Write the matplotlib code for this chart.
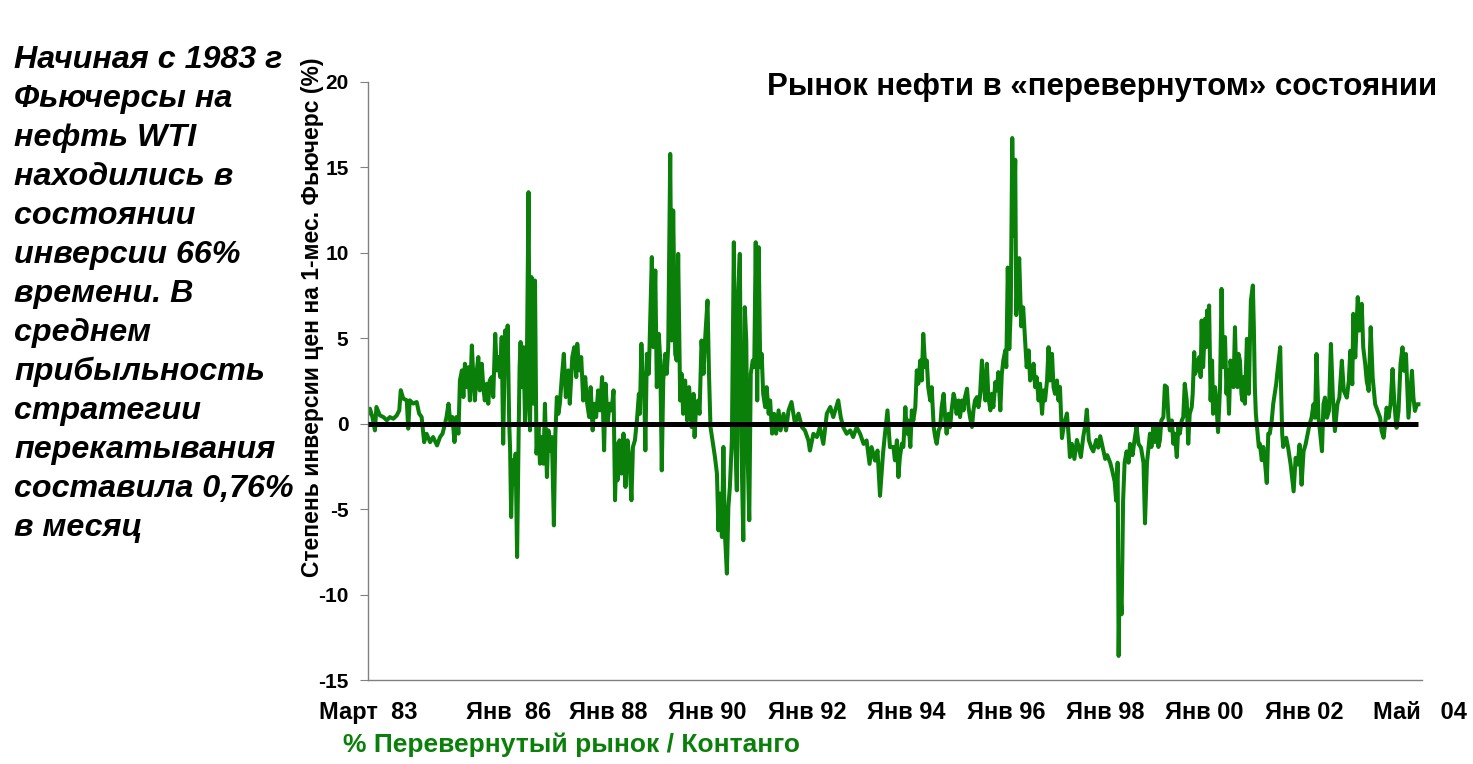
import matplotlib
matplotlib.use("Agg")
import matplotlib.pyplot as plt
import numpy as np

plt.rcParams['font.family'] = ['Liberation Sans', 'DejaVu Sans']
plt.rcParams['axes.unicode_minus'] = False

# spread between front month and next future, %, time in decimal years
years_83_84 = [1983.17, 1983.21, 1983.26, 1983.31, 1983.34, 1983.41, 1983.48, 1983.55, 1983.61, 1983.68,
               1983.75, 1983.80, 1983.83, 1983.88, 1983.95, 1983.98, 1984.01, 1984.08, 1984.15, 1984.20,
               1984.25, 1984.30, 1984.35, 1984.42, 1984.48, 1984.56]
spread_83_84 = [0.59, 0.88, 0.39, -0.39, 0.98, 0.49, 0.39, 0.2, 0.39, 0.29,
                0.49, 0.78, 1.96, 1.47, 1.37, -0.29, 1.37, 1.18, 1.27, 0.59,
                0.39, -1.08, -0.59, -1.08, -0.78, -1.27]

years_84_88 = [1984.62, 1984.67, 1984.72, 1984.75, 1984.79, 1984.83, 1984.87, 1984.91, 1984.95, 1984.99,
               1985.02, 1985.06, 1985.09, 1985.12, 1985.16, 1985.19, 1985.22, 1985.26, 1985.29, 1985.32,
               1985.36, 1985.39, 1985.42, 1985.46, 1985.49, 1985.52, 1985.56, 1985.59, 1985.62, 1985.66,
               1985.69, 1985.73, 1985.76, 1985.79, 1985.83, 1985.86, 1985.89, 1985.93, 1985.96, 1985.98,
               1986.01, 1986.03, 1986.05, 1986.08, 1986.11, 1986.14, 1986.17, 1986.20, 1986.22, 1986.24,
               1986.27, 1986.30, 1986.33, 1986.36, 1986.40, 1986.43, 1986.46, 1986.50, 1986.53, 1986.56,
               1986.60, 1986.63, 1986.66, 1986.70, 1986.73, 1986.77, 1986.80, 1986.83, 1986.87, 1986.91,
               1986.94, 1986.97, 1987.00, 1987.03, 1987.07, 1987.11, 1987.15, 1987.20, 1987.23, 1987.28,
               1987.32, 1987.36, 1987.38, 1987.42, 1987.46, 1987.50, 1987.54, 1987.58, 1987.62, 1987.65,
               1987.69, 1987.72, 1987.76, 1987.80, 1987.84, 1987.88, 1987.92, 1987.95, 1987.99, 1988.03,
               1988.07, 1988.11, 1988.14, 1988.17]
spread_84_88 = [-0.78, -0.58, 0.0, 0.39, 1.17, 0.0, 0.39, -1.07, 0.39, -0.58,
                2.53, 3.12, 1.56, 3.51, 2.14, 3.31, 1.36, 4.58, 2.73, 1.36,
                3.12, 3.9, 1.95, 3.51, 2.14, 1.36, 2.34, 1.17, 2.53, 2.73,
                1.56, 5.26, 3.12, 3.9, 2.73, 5.07, -1.17, 5.46, 3.9, 5.75,
                0.19, -1.56, -5.46, -2.14, -3.51, -1.75, -7.8, -0.78, 3.31, 4.78,
                2.14, 4.48, 0.0, 1.56, 13.55, -0.39, 8.58, 1.17, 8.38, -1.75,
                -0.19, -2.34, -0.78, -2.34, 1.17, -3.12, -0.39, -1.56, -0.78, -5.95,
                -0.58, 1.56, 0.58, 1.17, 2.73, 4.09, 1.56, 3.12, 1.17, 3.9,
                4.48, 2.73, 4.68, 3.12, 3.9, 1.36, 2.73, 1.17, 0.39, 2.14,
                -0.39, 1.17, 0.39, 1.95, 0.78, 2.73, -1.56, 2.34, 0.0, 1.17,
                0.78, 1.95, -4.48, -1.17]

years_88_91 = [1988.19, 1988.23, 1988.27, 1988.31, 1988.35, 1988.39, 1988.43, 1988.47, 1988.50, 1988.54,
               1988.58, 1988.62, 1988.64, 1988.67, 1988.70, 1988.72, 1988.75, 1988.78, 1988.82, 1988.84,
               1988.88, 1988.91, 1988.95, 1988.98, 1989.02, 1989.05, 1989.08, 1989.11, 1989.15, 1989.18,
               1989.21, 1989.25, 1989.28, 1989.31, 1989.35, 1989.38, 1989.41, 1989.45, 1989.48, 1989.51,
               1989.55, 1989.59, 1989.63, 1989.68, 1989.72, 1989.74, 1989.77, 1989.81, 1989.84, 1989.88,
               1989.92, 1989.95, 1990.00, 1990.03, 1990.06, 1990.10, 1990.15, 1990.19, 1990.22, 1990.25,
               1990.29, 1990.32, 1990.35, 1990.39, 1990.42, 1990.45, 1990.49, 1990.53, 1990.56, 1990.59,
               1990.61, 1990.65, 1990.68, 1990.72, 1990.75, 1990.78, 1990.80, 1990.84, 1990.87, 1990.91,
               1990.94, 1990.97, 1991.00, 1991.03, 1991.06, 1991.09, 1991.12, 1991.16, 1991.19, 1991.23,
               1991.26, 1991.30, 1991.34, 1991.38, 1991.43, 1991.47, 1991.53, 1991.58, 1991.63]
spread_88_91 = [-3.31, -0.97, -2.92, -0.58, -3.7, -0.97, -2.14, -4.48, -1.36, -0.97,
                0.19, 1.75, 0.58, 4.68, 2.34, 2.92, -1.56, 4.09, 2.92, 5.26,
                9.75, 4.48, 8.97, 2.14, 5.26, 3.7, -2.73, 2.53, 4.09, 2.92,
                4.48, 15.79, 4.87, 12.48, 4.09, 3.7, 9.94, 1.36, 2.92, 0.58,
                2.53, 0.19, 2.14, -0.19, 1.75, -0.78, 0.97, 1.36, 0.58, 4.87,
                2.92, 4.87, 7.21, 2.92, -0.19, -0.97, -1.95, -2.92, -6.24, -4.09,
                -6.63, -1.36, -6.43, -8.77, -4.87, -3.7, -0.97, 10.62, -0.97, -3.9,
                7.21, 9.94, -0.97, -6.82, 6.82, 4.87, -0.97, -5.65, 2.92, 3.7,
                3.31, 10.62, 1.36, 10.33, 3.31, 4.09, 1.75, 0.97, 2.14, 0.58,
                1.36, -0.58, 0.58, -0.58, 0.78, -0.39, 0.58, -0.39, 0.78]

years_91_93 = [1991.69, 1991.76, 1991.83, 1991.90, 1991.96, 1992.03, 1992.06, 1992.13, 1992.20, 1992.26,
               1992.33, 1992.40, 1992.47, 1992.53, 1992.59, 1992.63, 1992.68, 1992.73, 1992.80, 1992.87,
               1992.93, 1993.00, 1993.07, 1993.14, 1993.20, 1993.26, 1993.30, 1993.37, 1993.42, 1993.47,
               1993.53, 1993.57, 1993.62, 1993.67]
spread_91_93 = [1.27, 0.0, 0.59, -0.2, -0.39, -0.98, -1.57, -0.59, -0.78, -0.2,
                -1.18, 0.59, 0.98, 0.39, 0.98, 1.37, 0.39, -0.2, -0.59, -0.39,
                -0.78, -0.2, -0.59, -1.18, -0.98, -2.35, -1.37, -2.16, -1.57, -4.22,
                -1.76, -0.59, 0.78, -1.37]

years_93_96 = [1993.74, 1993.77, 1993.81, 1993.84, 1993.87, 1993.91, 1993.94, 1993.98, 1994.01, 1994.04,
               1994.08, 1994.11, 1994.14, 1994.18, 1994.21, 1994.24, 1994.28, 1994.31, 1994.34, 1994.38,
               1994.41, 1994.44, 1994.48, 1994.51, 1994.55, 1994.58, 1994.61, 1994.65, 1994.68, 1994.71,
               1994.75, 1994.78, 1994.81, 1994.85, 1994.88, 1994.91, 1994.95, 1994.98, 1995.01, 1995.05,
               1995.08, 1995.12, 1995.15, 1995.18, 1995.22, 1995.25, 1995.28, 1995.32, 1995.35, 1995.38,
               1995.42, 1995.45, 1995.48, 1995.52, 1995.55, 1995.59, 1995.62, 1995.65, 1995.69, 1995.72,
               1995.75, 1995.79, 1995.82, 1995.85, 1995.89, 1995.92, 1995.95, 1995.99, 1996.01, 1996.04,
               1996.07, 1996.10, 1996.13, 1996.16, 1996.19, 1996.21, 1996.24, 1996.27, 1996.31, 1996.35,
               1996.39]
spread_93_96 = [-1.36, -2.14, -0.97, -3.12, -1.95, -1.17, -1.36, 0.97, -0.58, 0.19,
                -1.36, 0.78, 0.19, 0.97, 3.12, 2.34, 3.7, 2.53, 5.26, 3.31,
                3.7, 2.14, 1.36, 2.14, -0.19, -0.78, -1.17, -0.39, -0.19, 0.97,
                1.75, 0.39, -0.58, 0.58, -0.19, 0.78, 1.75, 1.36, 0.58, 1.36,
                0.39, 1.36, 0.78, 1.56, 2.05, 0.97, 0.39, -0.19, 0.78, 1.36,
                1.56, 0.97, 1.56, 3.7, 2.34, 1.36, 3.51, 1.56, 0.78, 1.75,
                0.97, 2.44, 1.95, 3.02, 0.78, 2.92, 3.7, 4.29, 3.31, 9.14,
                4.37, 6.59, 16.72, 11.02, 15.45, 6.36, 8.36, 9.69, 5.7, 6.81,
                4.81]

years_96_98 = [1996.42, 1996.46, 1996.49, 1996.52, 1996.56, 1996.59, 1996.62, 1996.66, 1996.69, 1996.73,
               1996.76, 1996.79, 1996.83, 1996.86, 1996.89, 1996.93, 1996.96, 1996.99, 1997.03, 1997.06,
               1997.09, 1997.13, 1997.17, 1997.23, 1997.27, 1997.29, 1997.33, 1997.38, 1997.43, 1997.47,
               1997.51, 1997.56, 1997.60, 1997.63, 1997.67, 1997.72, 1997.76, 1997.82, 1997.86, 1997.90,
               1997.95, 1998.00, 1998.04, 1998.10, 1998.14, 1998.19, 1998.22, 1998.25, 1998.27, 1998.29,
               1998.33, 1998.36, 1998.39, 1998.43, 1998.47, 1998.50, 1998.55, 1998.59, 1998.63, 1998.67,
               1998.72, 1998.77, 1998.80, 1998.84]
spread_96_98 = [3.31, 4.29, 2.53, 2.92, 3.51, 2.14, 2.73, 1.36, 2.34, 0.58,
                1.95, 1.36, 2.53, 4.48, 2.53, 4.09, 2.14, 1.75, 2.53, 1.36,
                2.15, -0.84, -0.07, 0.6, -0.95, -1.95, -1.18, -2.06, -0.95, -1.4,
                -1.95, -0.73, -0.07, 0.82, -0.95, -1.4, -1.62, -0.95, -1.4, -0.73,
                -1.4, -2.06, -1.84, -2.28, -2.73, -3.39, -4.5, -2.28, -13.59, -8.94,
                -11.15, -4.5, -2.28, -1.62, -2.28, -1.18, -1.84, -0.95, -0.18, -1.18,
                -1.4, -2.28, -5.83, -2.28]

years_99_01 = [1998.90, 1998.93, 1998.97, 1999.00, 1999.03, 1999.07, 1999.10, 1999.13, 1999.17, 1999.20,
               1999.24, 1999.27, 1999.30, 1999.34, 1999.37, 1999.40, 1999.44, 1999.47, 1999.50, 1999.54,
               1999.57, 1999.60, 1999.64, 1999.67, 1999.70, 1999.74, 1999.76, 1999.79, 1999.81, 1999.84,
               1999.87, 1999.89, 1999.92, 1999.94, 1999.96, 1999.97, 2000.01, 2000.03, 2000.05, 2000.07,
               2000.09, 2000.12, 2000.15, 2000.17, 2000.21, 2000.24, 2000.27, 2000.31, 2000.34, 2000.36,
               2000.38, 2000.41, 2000.44, 2000.46, 2000.49, 2000.52, 2000.54, 2000.58, 2000.61, 2000.63,
               2000.66, 2000.68, 2000.71, 2000.74, 2000.76, 2000.79, 2000.81, 2000.85, 2000.87, 2000.89,
               2000.91, 2000.93, 2000.97, 2000.99, 2001.01, 2001.03, 2001.06, 2001.09, 2001.11, 2001.15,
               2001.18, 2001.21, 2001.25, 2001.28, 2001.31, 2001.35, 2001.38, 2001.41, 2001.44, 2001.46,
               2001.49, 2001.52, 2001.54, 2001.56, 2001.58]
spread_99_01 = [-0.58, -1.36, -0.19, -1.07, -0.19, -1.36, -0.97, 0.19, 0.39, 2.24,
                2.14, 0.39, -0.39, 0.19, -1.17, -0.58, -1.95, -0.19, -0.58, 0.19,
                0.39, 2.34, 1.36, -1.17, 0.58, 0.97, 1.75, 4.19, 2.92, 3.7,
                3.12, 3.9, 2.73, 6.04, 3.7, 3.31, 6.14, 4.48, 6.63, 5.65,
                6.92, 1.36, 3.7, 0.58, 2.14, 0.97, -0.49, 2.14, 7.89, 4.68,
                3.31, 5.07, 1.75, 3.12, 0.58, 3.7, 3.12, 2.14, 5.65, 3.31,
                2.14, 4.09, 3.7, 1.75, 1.36, 2.73, 1.17, 4.97, 3.12, 1.75,
                4.68, 7.21, 8.09, 5.65, 2.14, 0.58, -0.39, -1.36, -1.17, -2.14,
                -1.36, -2.14, -3.47, -0.58, -0.58, 0.19, 1.17, 1.75, 2.34, 2.92,
                3.7, 4.48, 1.75, -0.58, -1.36]

years_01_04 = [2001.64, 2001.68, 2001.73, 2001.79, 2001.83, 2001.87, 2001.91, 2001.95, 2001.99, 2002.03,
               2002.07, 2002.11, 2002.15, 2002.19, 2002.22, 2002.25, 2002.29, 2002.32, 2002.36, 2002.39,
               2002.42, 2002.46, 2002.50, 2002.54, 2002.58, 2002.62, 2002.67, 2002.71, 2002.76, 2002.80,
               2002.86, 2002.90, 2002.93, 2002.97, 2002.99, 2003.03, 2003.08, 2003.11, 2003.16, 2003.19,
               2003.23, 2003.26, 2003.30, 2003.34, 2003.38, 2003.43, 2003.48, 2003.53, 2003.56, 2003.60,
               2003.63, 2003.66, 2003.70, 2003.74, 2003.78, 2003.81, 2003.84, 2003.86, 2003.90, 2003.94,
               2003.98, 2004.01, 2004.05, 2004.08, 2004.10, 2004.13, 2004.17, 2004.20, 2004.23, 2004.27,
               2004.30]
spread_01_04 = [-0.82, -1.41, -2.39, -3.96, -2.0, -2.39, -1.22, -3.57, -1.61, -1.22,
                -0.63, -0.04, 0.35, 1.14, 0.35, 4.08, 0.35, -0.43, -1.61, 1.14,
                1.53, 0.35, 0.75, 4.67, 1.53, -0.43, 1.14, 1.53, 3.69, 1.92,
                1.53, 2.51, 4.27, 2.31, 6.43, 3.88, 7.41, 5.45, 7.02, 4.47,
                3.49, 2.51, 1.92, 5.65, 2.71, 1.14, 0.75, 0.35, -0.43, -0.82,
                -0.04, 0.94, 0.35, 1.14, 3.2, 1.53, 0.35, -0.24, 0.75, 3.49,
                4.47, 3.1, 4.08, 1.92, 0.35, 1.53, 3.1, 1.53, 0.75, 1.14,
                1.14]

tick_years = [1983.17, 1986.0, 1988.0, 1990.0, 1992.0, 1994.0, 1996.0, 1998.0, 2000.0, 2002.0, 2004.33]
tick_labels = ['Март  83', 'Янв  86', 'Янв 88', 'Янв 90', 'Янв 92', 'Янв 94', 'Янв 96',
               'Янв 98', 'Янв 00', 'Янв 02', 'Май   04']

years = (years_83_84 + years_84_88 + years_88_91 + years_91_93 + years_93_96
         + years_96_98 + years_99_01 + years_01_04)
spread = (spread_83_84 + spread_84_88 + spread_88_91 + spread_91_93 + spread_93_96
          + spread_96_98 + spread_99_01 + spread_01_04)

fig = plt.figure(figsize=(14.73, 7.64), dpi=100)
ax = fig.add_axes([0.2498, 0.1099, 0.7155, 0.7828])

ax.plot(years, spread, color='#0a800a', lw=2.9)
ax.hlines(0, years[0], years[-1], color='black', lw=3.6, zorder=3)

ax.set_xlim(1983.17, 2004.37)
ax.set_ylim(-15, 20)
ax.set_yticks(np.arange(-15, 21, 5))
ax.set_xticks(tick_years)
ax.set_xticklabels(tick_labels)

for s in ['top', 'right']:
    ax.spines[s].set_visible(False)
for s in ['left', 'bottom']:
    ax.spines[s].set_color('#808080')
    ax.spines[s].set_linewidth(1.0)
ax.tick_params(axis='y', direction='out', length=6, color='#808080', labelsize=15, pad=8)
ax.tick_params(axis='x', length=0, labelsize=17, pad=15)
for lab in ax.get_xticklabels() + ax.get_yticklabels():
    lab.set_fontweight('bold')

fig.text(1437 / 1473, 1 - 87 / 764, 'Рынок нефти в «перевернутом» состоянии', ha='right', va='center',
         fontsize=22.5, fontweight='bold')
fig.text(313 / 1473, 1 - 317 / 764, 'Степень инверсии цен на 1-мес. Фьючерс (%)', rotation=90,
         ha='center', va='center', fontsize=16.5, fontweight='bold')
fig.text(343 / 1473, 1 - 745 / 764, '% Перевернутый рынок / Контанго', ha='left', va='center',
         fontsize=19, fontweight='bold', color='#0a800a')

note = ('Начиная с 1983 г\nФьючерсы на\nнефть WTI\nнаходились в\nсостоянии\nинверсии 66%\n'
        'времени. В\nсреднем\nприбыльность\nстратегии\nперекатывания\nсоставила 0,76%\nв месяц')
fig.text(14 / 1473, 1 - 45 / 764, note, ha='left', va='top', fontsize=23.2, fontweight='bold',
         style='italic', linespacing=1.39)

fig.savefig('out.png', dpi=100)
